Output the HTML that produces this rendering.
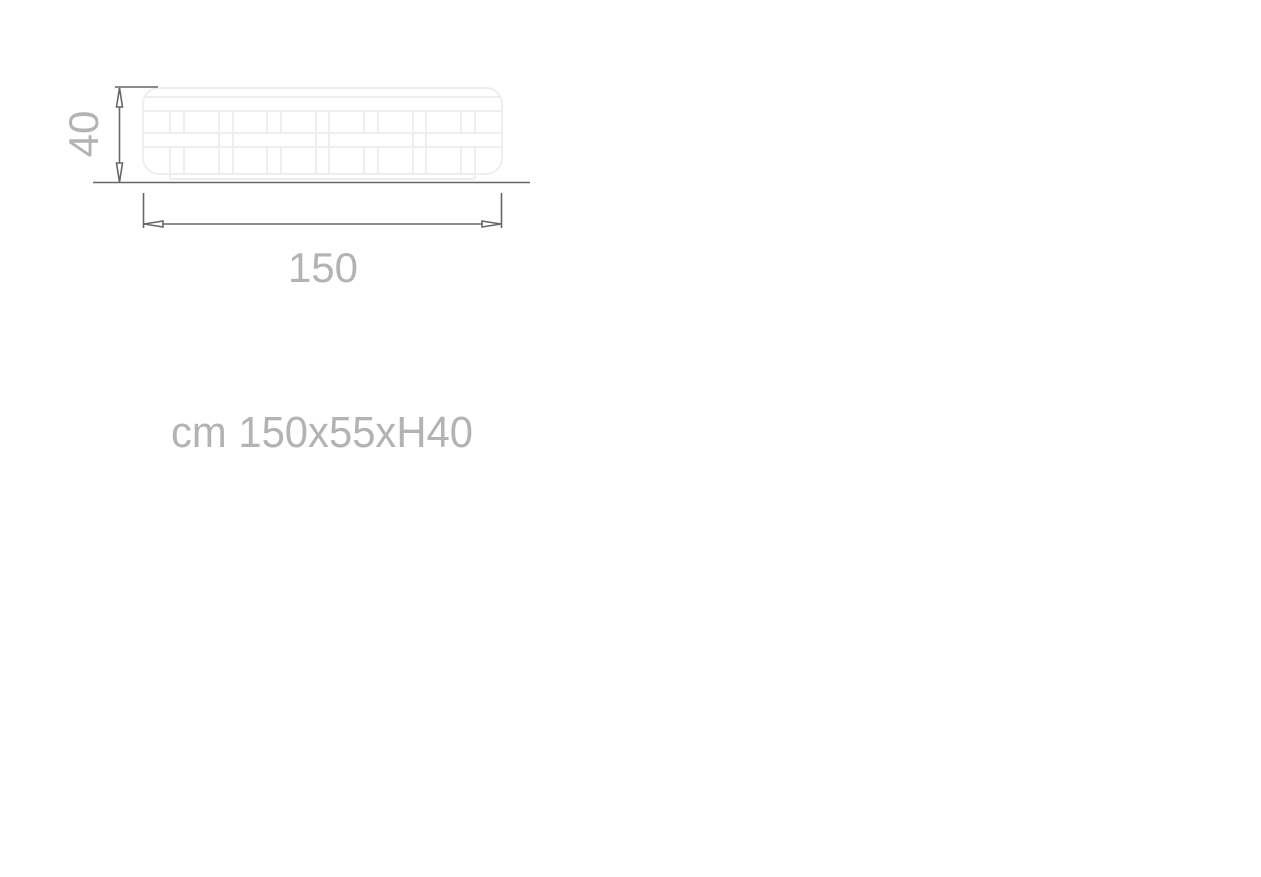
<!DOCTYPE html>
<html><head><meta charset="utf-8"><style>
html,body{margin:0;padding:0;background:#fff;}
svg{display:block;}
text{font-family:"Liberation Sans",sans-serif;fill:#b3b3b3;}
</style></head><body>
<svg width="1261" height="877" viewBox="0 0 1261 877" xmlns="http://www.w3.org/2000/svg">
<g fill="none" stroke="#eeeeee" stroke-width="2">
<rect x="143" y="88" width="359" height="86" rx="16" ry="16"/>
<line x1="144" y1="97" x2="501" y2="97"/>
<line x1="144" y1="111" x2="501" y2="111"/>
<line x1="144" y1="133" x2="501" y2="133"/>
<line x1="144" y1="147" x2="501" y2="147"/>
<line x1="170" y1="174" x2="170" y2="179"/>
<line x1="170" y1="179" x2="475" y2="179"/>
<line x1="475" y1="174" x2="475" y2="179"/>
<line x1="219" y1="111" x2="219" y2="173"/><line x1="233" y1="111" x2="233" y2="173"/>
<line x1="316" y1="111" x2="316" y2="173"/><line x1="329" y1="111" x2="329" y2="173"/>
<line x1="413" y1="111" x2="413" y2="173"/><line x1="426" y1="111" x2="426" y2="173"/>
<g>
<line x1="170" y1="111" x2="170" y2="133"/><line x1="184" y1="111" x2="184" y2="133"/>
<line x1="267" y1="111" x2="267" y2="133"/><line x1="281" y1="111" x2="281" y2="133"/>
<line x1="364" y1="111" x2="364" y2="133"/><line x1="378" y1="111" x2="378" y2="133"/>
<line x1="461" y1="111" x2="461" y2="133"/><line x1="475" y1="111" x2="475" y2="133"/>
<line x1="170" y1="147" x2="170" y2="173"/><line x1="184" y1="147" x2="184" y2="173"/>
<line x1="267" y1="147" x2="267" y2="173"/><line x1="281" y1="147" x2="281" y2="173"/>
<line x1="364" y1="147" x2="364" y2="173"/><line x1="378" y1="147" x2="378" y2="173"/>
<line x1="461" y1="147" x2="461" y2="173"/><line x1="475" y1="147" x2="475" y2="173"/>
</g>
</g>
<g stroke="#666" stroke-width="1.6" fill="none">
<line x1="93" y1="182.5" x2="530" y2="182.5"/>
<line x1="115" y1="87" x2="158" y2="87"/>
<line x1="119.5" y1="88" x2="119.5" y2="182"/>
<polygon points="119.5,88 116.5,107 122.5,107" fill="#fff"/>
<polygon points="119.5,182 116.5,163 122.5,163" fill="#fff"/>
<line x1="143.5" y1="193" x2="143.5" y2="228"/>
<line x1="501.5" y1="193" x2="501.5" y2="228"/>
<line x1="144" y1="224" x2="501" y2="224"/>
<polygon points="144,224 163,221 163,227" fill="#fff"/>
<polygon points="501,224 482,221 482,227" fill="#fff"/>
</g>
<text x="323" y="282" font-size="42" text-anchor="middle">150</text>
<text transform="translate(98,134) rotate(-90)" font-size="42" text-anchor="middle">40</text>
<text x="171" y="447" font-size="44" textLength="302" lengthAdjust="spacingAndGlyphs">cm 150x55xH40</text>
</svg>
</body></html>
